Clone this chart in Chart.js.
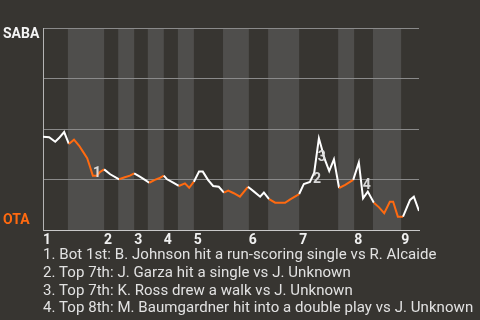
<!DOCTYPE html>
<html><head><meta charset="utf-8">
<script src="https://cdn.jsdelivr.net/npm/chart.js@4.4.0/dist/chart.umd.min.js"></script>
<style>
html,body{margin:0;padding:0;background:#373531;width:480px;height:320px;overflow:hidden;font-family:Roboto,sans-serif}
#wrap{position:absolute;left:0;top:0;width:480px;height:320px}
#notes{position:absolute;left:43px;top:246px;color:#e2e2e2;font-size:15px;letter-spacing:0.06px;line-height:17.8px;white-space:nowrap}
</style></head><body>
<div id="wrap"><canvas id="c" width="480" height="320"></canvas></div>
<div id="notes"></div>
<script>
// ---- data ----
const awayTeam = 'SABA';
const homeTeam = 'OTA';
const inningLabels = ['1','2','3','4','5','6','7','8','9'];
const inningStart = [0, 13.0, 19.4, 25.7, 32.1, 43.8, 54.5, 66.2, 76.2];
const halfStart = [0, 5.3, 13.0, 16.0, 19.4, 22.3, 25.7, 28.7, 32.1, 38.3, 43.8, 47.9, 54.5, 62.8, 66.2, 70.2, 76.2];
const gameEnd = 80;
const paX = [0, 1.3, 2.6, 3.4, 4.5, 5.5, 6.6, 7.7, 8.5, 9.4, 10.0, 10.6, 11.5, 12.1, 13.0, 14.3, 16.2, 17.4, 18.5, 19.4,
  20.6, 21.7, 22.6, 23.8, 24.7, 25.7, 26.4, 27.7, 28.9, 30.2, 31.1, 32.1, 33.2, 34.0, 35.1, 36.2, 37.4, 38.5, 39.4, 40.6,
  41.9, 43.6, 44.9, 46.2, 47.0, 48.1, 49.4, 51.5, 52.6, 54.5, 55.5, 56.8, 57.7, 58.7, 60.0, 60.9, 61.9, 63.0, 64.3, 66.0,
  67.2, 68.1, 69.1, 70.4, 71.5, 72.6, 73.8, 74.5, 75.5, 76.6, 78.1, 78.9, 80];
const sabaWinPct = [46.2, 45.9, 43.7, 45.5, 48.5, 42.6, 44.7, 41.7, 38.8, 35.6, 31.3, 26.9, 26.9, 28.7, 30.0, 27.6, 25.1, 26.1, 26.9, 28.0,
  26.4, 24.8, 23.4, 24.8, 25.6, 26.9, 25.1, 23.4, 21.8, 23.1, 20.9, 23.9, 28.9, 28.9, 24.8, 21.8, 21.4, 18.5, 19.5, 18.2,
  16.5, 21.4, 19.0, 16.5, 18.5, 15.3, 13.5, 13.5, 15.2, 17.8, 22.8, 23.8, 28.4, 45.4, 34.7, 29.2, 35.0, 20.8, 22.3, 24.8,
  33.5, 15.7, 19.0, 13.5, 11.2, 8.3, 14.0, 14.0, 6.6, 6.6, 14.9, 16.5, 9.4];
const eventNo = ['1', '2', '3', '4'];
const eventX = [11.5, 58.3, 59.3, 68.9];
const eventY = [28.2, 25.2, 36.1, 22.0];
const notes = [
  '1. Bot 1st: B. Johnson hit a run-scoring single vs R. Alcaide',
  '2. Top 7th: J. Garza hit a single vs J. Unknown',
  '3. Top 7th: K. Ross drew a walk vs J. Unknown',
  '4. Top 8th: M. Baumgardner hit into a double play vs J. Unknown'
];

// ---- styles ----
const ORANGE = '#ff6a10';
const WHITE = '#ffffff';
const BAND = '#4f4e4c';
const FONT = 'Roboto, sans-serif';

document.getElementById('notes').innerHTML = notes.map(t => '<div>' + t + '</div>').join('');

function halfIndex(x) {
  let h = 0;
  for (let i = 0; i < halfStart.length; i++) if (x >= halfStart[i]) h = i;
  return h;
}

const bandPlugin = {
  id: 'bands',
  beforeDraw(chart) {
    const {ctx, chartArea, scales: {x}} = chart;
    ctx.save();
    ctx.fillStyle = BAND;
    for (let i = 1; i < halfStart.length; i += 2) {
      const x0 = x.getPixelForValue(halfStart[i]);
      const x1 = x.getPixelForValue(i + 1 < halfStart.length ? halfStart[i + 1] : gameEnd);
      ctx.fillRect(x0, chartArea.top, x1 - x0, chartArea.bottom - chartArea.top);
    }
    ctx.restore();
  }
};

const textPlugin = {
  id: 'texts',
  afterDatasetsDraw(chart) {
    const {ctx, scales: {x, y}} = chart;
    ctx.save();
    ctx.font = 'bold 14px ' + FONT;
    ctx.textAlign = 'center';
    ctx.textBaseline = 'middle';
    ctx.fillStyle = 'rgba(225,225,225,0.95)';
    eventNo.forEach((t, i) => ctx.fillText(t, x.getPixelForValue(eventX[i]), y.getPixelForValue(eventY[i])));
    ctx.textAlign = 'left';
    ctx.fillStyle = '#f4f4f4';
    ctx.fillText(awayTeam, 3, y.getPixelForValue(100) + 6);
    ctx.fillStyle = ORANGE;
    ctx.fillText(homeTeam, 3, y.getPixelForValue(0) - 10);
    ctx.restore();
  }
};

new Chart(document.getElementById('c'), {
  type: 'line',
  data: {
    datasets: [{
      data: paX.map((v, i) => ({x: v, y: sabaWinPct[i]})),
      borderWidth: 2,
      pointRadius: 0,
      tension: 0,
      borderColor: WHITE,
      segment: {
        borderColor: c => (halfIndex((c.p0.parsed.x + c.p1.parsed.x) / 2) % 2 === 1) ? ORANGE : WHITE
      }
    }]
  },
  options: {
    responsive: false,
    animation: false,
    devicePixelRatio: 1,
    layout: {padding: {left: 43, top: 28, right: 61, bottom: 70}},
    plugins: {legend: {display: false}, tooltip: {enabled: false}},
    scales: {
      x: {
        type: 'linear', min: 0, max: gameEnd,
        afterBuildTicks: s => { s.ticks = inningStart.map(v => ({value: v})); },
        afterFit: s => { s.height = 20; },
        grid: {display: false, drawTicks: false},
        border: {display: true, color: '#c8c8c8', width: 1},
        ticks: {
          align: 'start', padding: 2, autoSkip: false, maxRotation: 0,
          color: '#f0f0f0', font: {family: FONT, size: 14, weight: 'bold'},
          callback: (v, i) => inningLabels[i]
        }
      },
      y: {
        min: 0, max: 100,
        afterFit: s => { s.width = 0; },
        ticks: {display: false, stepSize: 25},
        grid: {color: '#8a8a8a', drawTicks: false, lineWidth: 1},
        border: {display: true, color: '#b4b4b4', width: 1}
      }
    }
  },
  plugins: [bandPlugin, textPlugin]
});
</script>
</body></html>
